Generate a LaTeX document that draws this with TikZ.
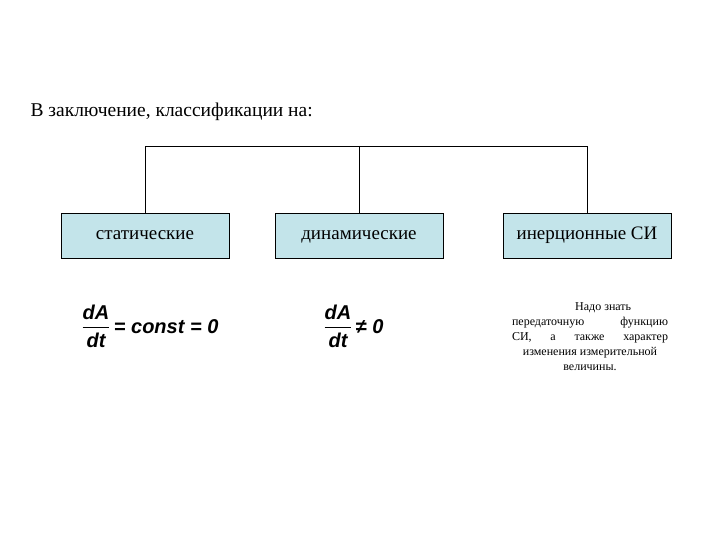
\documentclass[tikz,border=0pt]{standalone}
\usepackage{amsmath}
\usepackage{fontspec}
\setmainfont{Liberation Serif}
\setsansfont{Liberation Sans}
\begin{document}
\begin{tikzpicture}[x=1pt,y=-1pt,
  box/.style={draw=black,fill=boxblue,minimum width=168pt,minimum height=45pt,inner sep=0pt,text height=13pt,text depth=4pt,font=\fontsize{19}{21}\selectfont},
  ln/.style={draw=black,line width=0.8pt},
  fm/.style={font=\fontsize{20}{24}\selectfont\sffamily\bfseries\itshape}]
\definecolor{boxblue}{HTML}{C3E4EA}
\useasboundingbox (0,0) rectangle (720,540);
\node[anchor=base west,font=\fontsize{19.5}{22}\selectfont] (t) at (27,117) {В заключение, классификации на:};
\node[box] (b1) at (145,235.5) {статические};
\node[box] (b2) at (359,235.5) {динамические};
\node[box] (b3) at (587,235.5) {инерционные СИ};
\coordinate (c1) at (145,146);
\coordinate (c2) at (359,146);
\coordinate (c3) at (587,146);
\draw[ln] (b1.north) -- (c1) -- (c3) -- (b3.north);
\draw[ln] (c2) -- (b2.north);
\node[fm,anchor=west] (f1) at (78,326) {$\dfrac{\text{dA}}{\text{dt}}$\,= const = 0};
\node[fm,anchor=west] (f2) at (320,326) {$\dfrac{\text{dA}}{\text{dt}}$\,{\upshape ≠} 0};
\node[font=\fontsize{12}{15}\selectfont,align=center] (n) at (590,337)
 {\hspace*{2.2em}Надо знать\\
  \makebox[156pt]{передаточную\hfill функцию}\\
  \makebox[156pt]{СИ,\hfill а\hfill также\hfill характер}\\
  изменения измерительной\\
  величины.};
\end{tikzpicture}
\end{document}
